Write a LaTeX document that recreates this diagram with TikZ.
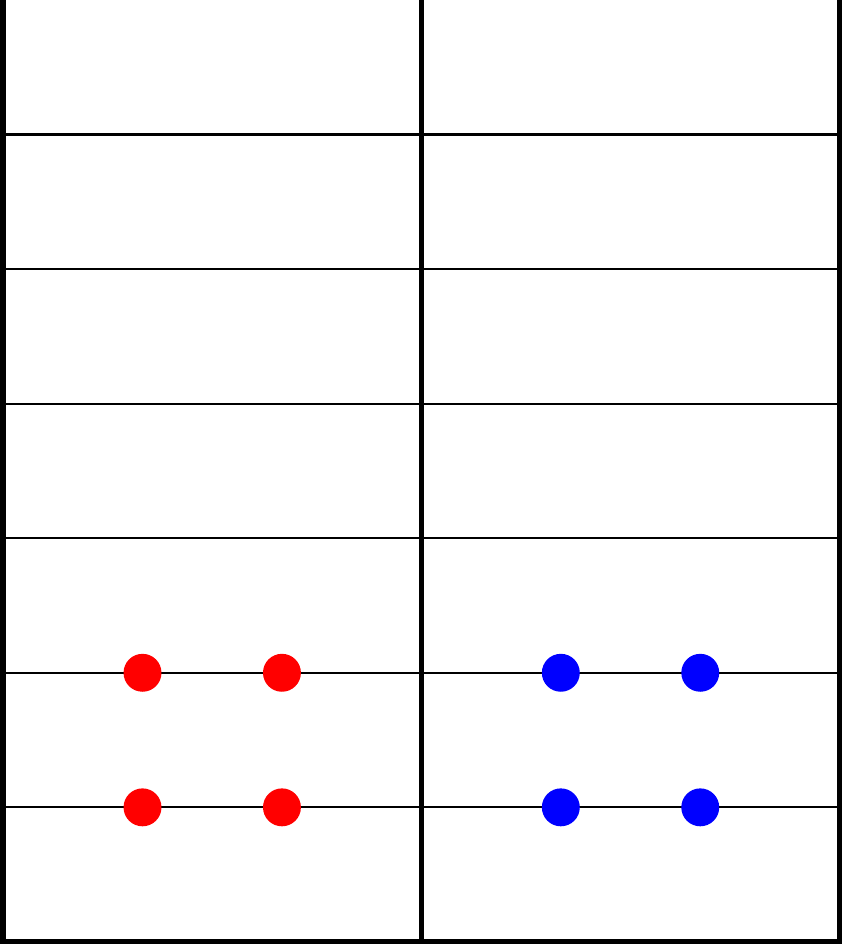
\documentclass[tikz,border=0pt]{standalone}
\begin{document}
\begin{tikzpicture}[x=1cm, y=0.965cm]
    % Two-column shelf: 6 units wide, 7 levels high
    \def\dotr{0.136cm}

    \useasboundingbox (-0.022,-0.023) rectangle (6.029,7);

    % Level lines (thin)
    \foreach \y in {1,...,6} {
      \draw[black, line width=0.45pt] (0,\y) -- (6,\y);
    }

    % Walls and floor (thick)
    \draw[black, line width=1.05pt, line join=miter] (0,7) -- (0,0) -- (6,0) -- (6,7);
    \draw[black, line width=1.05pt] (3,0) -- (3,7);

    % Particles on levels 1 and 2
    \foreach \x/\col in {1/red, 2/red, 4/blue, 5/blue} {
      \foreach \y in {1,2} {
        \fill[\col] (\x,\y) circle[radius=\dotr];
      }
    }
  \end{tikzpicture}
\end{document}
